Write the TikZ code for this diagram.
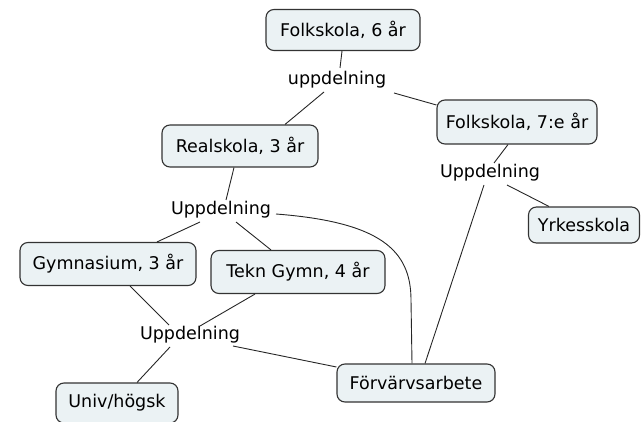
\documentclass[tikz,border=0pt]{standalone}
\usepackage{fontspec}
\setmainfont{DejaVu Sans}
\begin{document}
\begin{tikzpicture}[x=1pt,y=-1pt,
  box/.style={draw=black!80,line width=1.1pt,fill=boxfill,rounded corners=8pt,inner sep=0pt,font=\fontsize{17.5}{20}\selectfont},
  lab/.style={inner sep=0pt,font=\fontsize{17.5}{20}\selectfont},
  conn/.style={draw=black!85,line width=0.9pt}]
\definecolor{boxfill}{HTML}{EBF2F4}
\useasboundingbox (0,0) rectangle (642,422);
\node[box,minimum width=154,minimum height=41] (f6) at (343,30) {Folkskola, 6 år};
\node[lab] (u1) at (337,80) {uppdelning};
\node[box,minimum width=156,minimum height=42] (real) at (240,146) {Realskola, 3 år};
\node[box,minimum width=160,minimum height=44] (f7) at (517,122) {Folkskola, 7:e år};
\node[lab] (u2) at (490,173) {Uppdelning};
\node[box,minimum width=111,minimum height=36] (yrk) at (584,225) {Yrkesskola};
\node[lab] (u3) at (221,210) {Uppdelning};
\node[box,minimum width=176,minimum height=43] (gym) at (108,264) {Gymnasium, 3 år};
\node[box,minimum width=174,minimum height=43] (tekn) at (298,272) {Tekn Gymn, 4 år};
\node[lab] (u4) at (190,335) {Uppdelning};
\node[box,minimum width=122,minimum height=40] (univ) at (117,403) {Univ/högsk};
\node[box,minimum width=158,minimum height=38] (forv) at (416,383) {Förvärvsarbete};

\draw[conn] ([xshift=-1]f6.south) -- ([shift={(3,-12)}]u1.center);
\draw[conn] ([shift={(-13,12)}]u1.center) -- ([xshift=45]real.north);
\draw[conn] ([shift={(57,13)}]u1.center) -- ([yshift=17]f7.west);
\draw[conn] ([xshift=-9]f7.south) -- ([shift={(4,-10)}]u2.center);
\draw[conn] ([shift={(17,12)}]u2.center) -- ([xshift=-35]yrk.north);
\draw[conn] ([shift={(-6,12)}]u2.center) -- ([xshift=9]forv.north);
\draw[conn] ([xshift=-6]real.south) -- ([shift={(5,-10)}]u3.center);
\draw[conn] ([shift={(-21,12)}]u3.center) -- ([xshift=49]gym.north);
\draw[conn] ([shift={(15,12)}]u3.center) -- ([xshift=-27]tekn.north);
\draw[conn] ([shift={(55,4)}]u3.center) .. controls (380,222) and (411,250) .. (411,300) -- ([xshift=-4]forv.north);
\draw[conn] ([xshift=-43]tekn.south) -- ([shift={(10,-9)}]u4.center);
\draw[conn] ([xshift=22]gym.south) -- ([shift={(-21,-10)}]u4.center);
\draw[conn] ([shift={(-20,12)}]u4.center) -- ([xshift=20]univ.north);
\draw[conn] ([shift={(43,11)}]u4.center) -- ([yshift=16]forv.west);
\end{tikzpicture}
\end{document}
